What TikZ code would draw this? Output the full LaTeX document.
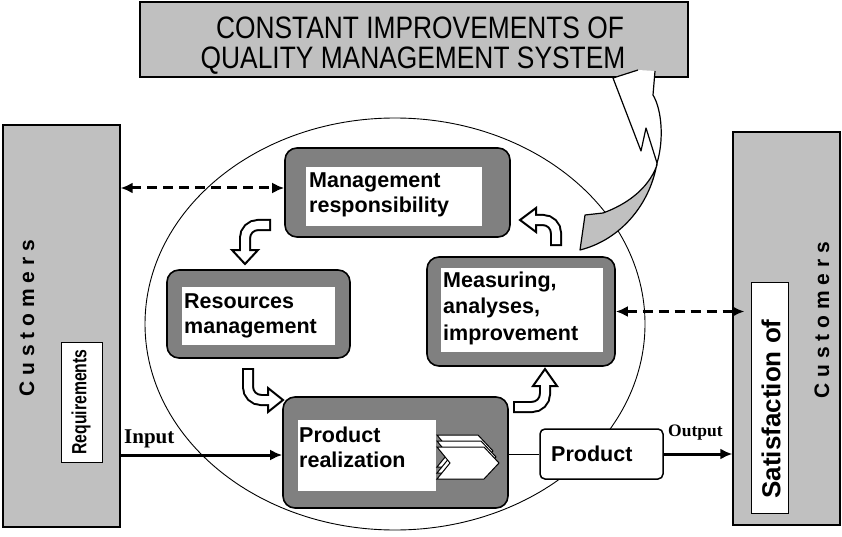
\documentclass[tikz,border=0pt]{standalone}
\usepackage{fontspec}
\setmainfont{Liberation Sans}
\newfontfamily\tnr{Liberation Serif}
\usetikzlibrary{arrows.meta,calc}
\definecolor{lgray}{RGB}{192,192,192}
\definecolor{dgray}{RGB}{128,128,128}
\begin{document}
\begin{tikzpicture}[x=1pt,y=-1pt,
  lightbox/.style={draw=black, line width=1.3pt, fill=lgray, inner sep=0pt},
  procbox/.style={draw=black, line width=1.6pt, fill=dgray, rounded corners=12pt, inner sep=0pt},
  whitebox/.style={fill=white, draw=none, inner sep=0pt},
  lbl/.style={font=\fontsize{21.5}{25}\selectfont\bfseries, anchor=base west, inner sep=0pt},
  dasharrow/.style={line width=3pt, dash pattern=on 10pt off 6pt, {Latex[length=12pt,width=11pt]}-{Latex[length=12pt,width=11pt]}},
  solidarrow/.style={line width=3pt, -{Latex[length=12pt,width=11pt]}},
  shaftb/.style={line width=12pt, black},
  shaftw/.style={line width=8pt, white, shorten <=2pt},
  headst/.style={fill=white, draw=black, line width=2pt, line join=miter},
  chev/.style={fill=white, draw=black, line width=1pt, line join=miter}
]
\useasboundingbox (0,0) rectangle (842,537);
% ellipse
\draw[line width=0.9pt] (395,324) ellipse [x radius=250, y radius=206];
% banner
\node[lightbox, minimum width=548pt, minimum height=75pt] (banner) at (414,39.5) {};
\node[anchor=base, inner sep=0pt, font=\fontsize{31}{31}\selectfont] (ban1) at (420,39) {\scalebox{0.85}[1]{CONSTANT IMPROVEMENTS OF}};
\node[anchor=base, inner sep=0pt, font=\fontsize{31}{31}\selectfont] (ban2) at (413,69) {\scalebox{0.85}[1]{QUALITY MANAGEMENT SYSTEM}};
% big curved arrow
\fill[white] (613,78) -- (641,151) -- (646,128) -- (657,163) .. controls (664,140) and (662,110) .. (653,95) -- (655,71) -- (638,70) -- cycle;
\draw[line width=1.2pt, line join=round] (638,70) -- (613,78) -- (641,151) -- (646,128) -- (657,163) .. controls (664,140) and (662,110) .. (653,95) -- (655,71);
\filldraw[fill=lgray, line width=1.2pt, line join=round] (657,163) .. controls (650,205) and (620,240) .. (580,250) -- (585,215) -- (603,213) .. controls (625,205) and (648,190) .. (657,165) -- cycle;
% customers boxes
\node[lightbox, minimum width=117pt, minimum height=402pt] (custL) at (61.5,326) {};
\node[rotate=90, inner sep=0pt, font=\fontsize{21}{21}\selectfont\bfseries] (custLt) at (27,318) {C u s t o m e r s};
\node[draw=black, line width=1pt, fill=white, minimum width=41pt, minimum height=120pt, inner sep=0pt] (req) at (81.5,402) {};
\node[rotate=90, inner sep=0pt, font=\fontsize{20.5}{20.5}\selectfont\bfseries] (reqt) at (81,402) {\scalebox{0.77}[1]{Requirements}};
\node[lightbox, minimum width=107pt, minimum height=393pt] (custR) at (786.5,328.5) {};
\node[rotate=90, inner sep=0pt, font=\fontsize{21}{21}\selectfont\bfseries] (custRt) at (822,320) {C u s t o m e r s};
\node[draw=black, line width=1pt, fill=white, minimum width=37pt, minimum height=231pt, inner sep=0pt] (sat) at (769.5,397.5) {};
\node[rotate=90, inner sep=0pt, font=\fontsize{26}{26}\selectfont\bfseries] (satt) at (771,409) {Satisfaction of};
% process boxes
\node[procbox, minimum width=225pt, minimum height=89pt] (mgmt) at (397.5,192.5) {};
\node[whitebox, minimum width=176pt, minimum height=59pt] (mgmti) at (394,196.5) {};
\node[lbl] (mgmt1) at (309,188) {Management};
\node[lbl] (mgmt2) at (309,213) {responsibility};
\node[procbox, minimum width=183pt, minimum height=88pt] (res) at (258.5,314) {};
\node[whitebox, minimum width=153pt, minimum height=58pt] (resi) at (258.5,316) {};
\node[lbl] (res1) at (184,308) {Resources};
\node[lbl] (res2) at (184,333) {management};
\node[procbox, minimum width=188pt, minimum height=109pt] (meas) at (521,311.5) {};
\node[whitebox, minimum width=162pt, minimum height=84pt] (measi) at (522,310) {};
\node[lbl] (meas1) at (443,287) {Measuring,};
\node[lbl] (meas2) at (443,313) {analyses,};
\node[lbl] (meas3) at (443,340) {improvement};
\node[procbox, minimum width=225pt, minimum height=111pt] (real) at (395.5,452.5) {};
\node[whitebox, minimum width=138pt, minimum height=71pt] (reali) at (367,455.5) {};
\node[lbl] (real1) at (299,442) {Product};
\node[lbl] (real2) at (299,467) {realization};
% chevrons
\draw[chev] (437,435) -- ++(41,0) -- ++(15,16) -- ++(-15,16) -- ++(-41,0) -- ++(13,-16) -- cycle;
\draw[chev] (437,441) -- ++(44,0) -- ++(15,16) -- ++(-15,16) -- ++(-44,0) -- ++(13,-16) -- cycle;
\draw[chev] (437,447) -- ++(47,0) -- ++(15,16) -- ++(-15,16) -- ++(-47,0) -- ++(13,-16) -- cycle;
% product box
\node[draw=black, line width=1.5pt, fill=white, rounded corners=5pt, minimum width=123pt, minimum height=50pt, inner sep=0pt] (prod) at (601.5,454) {};
\node[lbl] (prodt) at (551,461) {Product};
% connectors
\coordinate (dl) at ([yshift=4.5pt]mgmt.west);
\draw[dasharrow] (dl -| custL.east) -- (dl);
\coordinate (dr) at ([xshift=12pt]meas.east -| custR.west);
\draw[dasharrow] (meas.east) -- (dr);
\coordinate (inp) at ([yshift=-2.5pt]real.west);
\draw[solidarrow] (inp -| custL.east) -- (inp);
\draw[solidarrow] (prod.east) -- (prod.east -| custR.west);
\draw[line width=1pt] (real.east |- prod.west) -- (prod.west);
\node[anchor=base west, inner sep=0pt, font=\tnr\bfseries\fontsize{21}{21}\selectfont] (inpt) at (124,443) {Input};
\node[anchor=base west, inner sep=0pt, font=\tnr\bfseries\fontsize{17.5}{17.5}\selectfont] (outt) at (668,436) {Output};
% small bent arrows
% 1: mgmt -> res
\draw[shaftb] (271,225) -- (258,225) to[out=180,in=90] (245,238) -- (245,253);
\draw[headst] (232,250) -- (258,250) -- (245,264) -- cycle;
\draw[shaftw] (271,225) -- (258,225) to[out=180,in=90] (245,238) -- (245,253);
% 2: res -> real
\draw[shaftb] (248,368) -- (248,387) to[out=270,in=180] (261,400) -- (271,400);
\draw[headst] (268,388) -- (268,412) -- (283,400) -- cycle;
\draw[shaftw] (248,368) -- (248,387) to[out=270,in=180] (261,400) -- (271,400);
% 3: real -> meas
\draw[shaftb] (513,407) -- (532,407) to[out=0,in=270] (545,394) -- (545,383);
\draw[headst] (533,386) -- (557,386) -- (545,369) -- cycle;
\draw[shaftw] (513,407) -- (532,407) to[out=0,in=270] (545,394) -- (545,383);
% 4: meas -> mgmt
\draw[shaftb] (556,246) -- (556,233) to[out=90,in=0] (543,220) -- (533,220);
\draw[headst] (536,208) -- (536,232) -- (520,220) -- cycle;
\draw[shaftw] (556,246) -- (556,233) to[out=90,in=0] (543,220) -- (533,220);
\end{tikzpicture}
\end{document}
